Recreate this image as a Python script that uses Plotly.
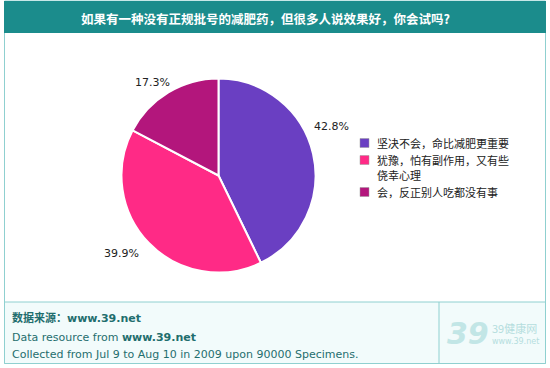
import plotly.graph_objects as go

title_text = "如果有一种没有正规批号的减肥药，但很多人说效果好，你会试吗?"
categories = ["坚决不会，命比减肥更重要", "犹豫，怕有副作用，又有些<br>侥幸心理", "会，反正别人吃都没有事"]
values = [42.8, 39.9, 17.3]
colors = ["#6a3fc2", "#ff2a86", "#b3167c"]
label_pos = [(331, 127), (121, 253), (152, 82)]  # label anchor positions (px)
legend_rows = [143, 160, 192]  # legend row (first line) centres (px)

W, H = 550, 368
def px(x): return x / W
def py(y): return 1 - y / H

cx, cy, r = 218.5, 175.5, 97

fig = go.Figure()
fig.add_trace(go.Pie(
    labels=categories, values=values, sort=False, direction="clockwise", rotation=0,
    marker=dict(colors=colors, line=dict(color="white", width=2)),
    textinfo="none", hoverinfo="label+percent",
    domain=dict(x=[px(cx - r), px(cx + r)], y=[py(cy + r), py(cy - r)]),
    showlegend=False,
))

shapes = [
    dict(type="rect", xref="paper", yref="paper", x0=px(4.5), x1=px(545.5), y0=py(363.5), y1=py(1),
         line=dict(color="#8fd0d0", width=1), fillcolor="rgba(0,0,0,0)", layer="below"),
    dict(type="rect", xref="paper", yref="paper", x0=px(4), x1=px(546), y0=py(33), y1=py(1),
         line=dict(width=0), fillcolor="#1b8c8c", layer="below"),
    dict(type="rect", xref="paper", yref="paper", x0=px(4.5), x1=px(545.5), y0=py(363.5), y1=py(302),
         line=dict(color="#8fd0d0", width=1), fillcolor="#f2fbfb", layer="below"),
    dict(type="line", xref="paper", yref="paper", x0=px(439), x1=px(439), y0=py(363.5), y1=py(302),
         line=dict(color="#8fd0d0", width=1)),
]

annotations = [
    dict(text="<b>" + title_text + "</b>", x=px(265), y=py(18), xref="paper", yref="paper",
         showarrow=False, font=dict(family="Noto Sans CJK SC", size=12.5, color="white"),
         xanchor="center", yanchor="middle"),
]
for v, (lx, ly) in zip(values, label_pos):
    annotations.append(dict(text=f"{v:.1f}%", x=px(lx), y=py(ly), xref="paper", yref="paper",
                            showarrow=False, xanchor="center", yanchor="middle",
                            font=dict(family="DejaVu Sans", size=11, color="#222222")))

# legend (squares + text, one annotation per text line)
line_gap = 15
for cat, col, ry in zip(categories, colors, legend_rows):
    shapes.append(dict(type="rect", xref="paper", yref="paper", x0=px(360), x1=px(369),
                       y0=py(ry + 4.5), y1=py(ry - 4.5), fillcolor=col,
                       line=dict(color="#999999", width=0.5)))
    for i, part in enumerate(cat.split("<br>")):
        annotations.append(dict(text=part, x=px(375), y=py(ry + i * line_gap), xref="paper", yref="paper",
                                showarrow=False, xanchor="left", yanchor="middle", align="left",
                                font=dict(family="Noto Sans CJK SC", size=11, color="#222222")))

foot_color = "#1f6e6e"
annotations += [
    dict(text="<b>数据来源：www.39.net</b>", x=px(10), y=py(318), xref="paper", yref="paper",
         showarrow=False, xanchor="left", yanchor="middle",
         font=dict(family="DejaVu Sans, Noto Sans CJK SC", size=11, color=foot_color)),
    dict(text="Data resource from <b>www.39.net</b>", x=px(10), y=py(337), xref="paper", yref="paper",
         showarrow=False, xanchor="left", yanchor="middle",
         font=dict(family="DejaVu Sans", size=11, color=foot_color)),
    dict(text="Collected from Jul 9 to Aug 10 in 2009 upon 90000 Specimens.", x=px(10), y=py(354),
         xref="paper", yref="paper", showarrow=False, xanchor="left", yanchor="middle",
         font=dict(family="DejaVu Sans", size=11, color=foot_color)),
    dict(text="<b><i>39</i></b>", x=px(468), y=py(333), xref="paper", yref="paper",
         showarrow=False, xanchor="center", yanchor="middle",
         font=dict(family="DejaVu Sans", size=30, color="#c2e6e6")),
    dict(text="39健康网", x=px(490), y=py(328), xref="paper", yref="paper",
         showarrow=False, xanchor="left", yanchor="middle",
         font=dict(family="Noto Sans CJK SC", size=11, color="#b5dede")),
    dict(text="www.39.net", x=px(490), y=py(341), xref="paper", yref="paper",
         showarrow=False, xanchor="left", yanchor="middle",
         font=dict(family="DejaVu Sans", size=8, color="#b5dede")),
]

fig.update_layout(
    width=W, height=H, margin=dict(l=0, r=0, t=0, b=0),
    paper_bgcolor="white", plot_bgcolor="white",
    shapes=shapes, annotations=annotations,
    showlegend=False,
)

fig.write_html("out.html", config={"displayModeBar": False},
               post_script="document.body.style.margin='0';document.body.style.overflow='hidden';")
